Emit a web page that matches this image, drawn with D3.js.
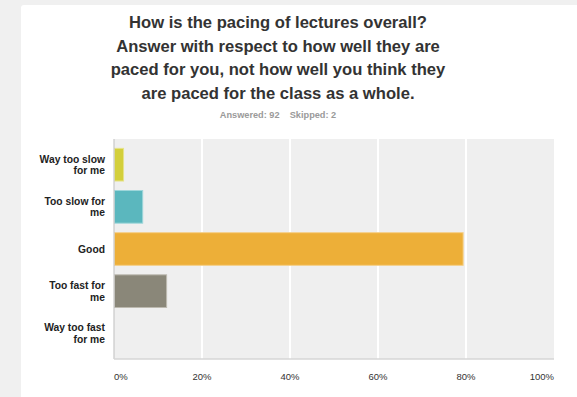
<!DOCTYPE html>
<html>
<head>
<meta charset="utf-8">
<script src="https://cdn.jsdelivr.net/npm/d3@7"></script>
<style>
  html, body { margin: 0; padding: 0; background: #f0f0f0; }
  svg { display: block; }
</style>
</head>
<body>
<svg id="chart" width="577" height="397"></svg>
<script>
// Survey question and response summary
const titleLines = [
  "How is the pacing of lectures overall?",
  "Answer with respect to how well they are",
  "paced for you, not how well you think they",
  "are paced for the class as a whole."
];
const answeredCount = 92;
const skippedCount = 2;

// Answer choices (each label wrapped onto its two printed lines)
const categories = ["Way too slow for me", "Too slow for me", "Good", "Too fast for me", "Way too fast for me"];
const categoryLines = [["Way too slow", "for me"], ["Too slow for", "me"], ["Good"], ["Too fast for", "me"], ["Way too fast", "for me"]];
// Response counts and resulting percentages
const counts = [2, 6, 73, 11, 0];
const percents = counts.map(c => c / answeredCount * 100);
const barColors = ["#d3cf3b", "#5bb7be", "#edaf38", "#8a8779", "#d3cf3b"];
const borderColors = ["#e6e38a", "#9fd6da", "#f5d089", "#bdbab0", "#e6e38a"];

// Axis ticks
const tickValues = [0, 20, 40, 60, 80, 100];
const tickLabels = ["0%", "20%", "40%", "60%", "80%", "100%"];

const svg = d3.select("#chart");
const font = "'Liberation Sans', Arial, Helvetica, sans-serif";

// White card
svg.append("rect")
  .attr("x", 21).attr("y", 5).attr("width", 600).attr("height", 420)
  .attr("rx", 3).attr("fill", "#ffffff");

// Title
svg.append("g").selectAll("text").data(titleLines).join("text")
  .attr("x", 278).attr("y", (d, i) => 28 + i * 23.5)
  .attr("text-anchor", "middle")
  .attr("font-family", font).attr("font-weight", "bold").attr("font-size", 16.6)
  .attr("fill", "#333333")
  .text(d => d);

// Answered / skipped line
svg.append("text")
  .attr("x", 278).attr("y", 118)
  .attr("text-anchor", "middle")
  .attr("font-family", font).attr("font-weight", "bold").attr("font-size", 9.2)
  .attr("fill", "#9a9a9a")
  .attr("xml:space", "preserve")
  .text(`Answered: ${answeredCount}    Skipped: ${skippedCount}`);

// Plot area
const plot = { left: 114, right: 554, top: 139, bottom: 359 };
const x = d3.scaleLinear().domain([0, 100]).range([plot.left, plot.right]);
const y = d3.scaleBand().domain(categories)
  .range([plot.top, plot.bottom]).paddingInner(0.225).paddingOuter(0.222);

svg.append("rect")
  .attr("x", plot.left).attr("y", plot.top)
  .attr("width", plot.right - plot.left).attr("height", plot.bottom - plot.top)
  .attr("fill", "#efefef");

// Vertical gridlines
svg.append("g").selectAll("line").data(tickValues.slice(1, -1)).join("line")
  .attr("x1", d => x(d)).attr("x2", d => x(d))
  .attr("y1", plot.top).attr("y2", plot.bottom)
  .attr("stroke", "#ffffff").attr("stroke-width", 2);

// Bars
svg.append("g").selectAll("rect").data(categories).join("rect")
  .filter((d, i) => percents[i] > 0)
  .attr("x", x(0) + 0.5)
  .attr("y", d => y(d))
  .attr("width", d => x(percents[categories.indexOf(d)]) - x(0) - 0.5)
  .attr("height", y.bandwidth())
  .attr("fill", d => barColors[categories.indexOf(d)])
  .attr("stroke", d => borderColors[categories.indexOf(d)])
  .attr("stroke-width", 1);

// Axis lines
svg.append("line")
  .attr("x1", plot.left).attr("x2", plot.left)
  .attr("y1", plot.top).attr("y2", plot.bottom)
  .attr("stroke", "#c8c8c8").attr("stroke-width", 1.2);
svg.append("line")
  .attr("x1", plot.left).attr("x2", plot.right)
  .attr("y1", plot.bottom).attr("y2", plot.bottom)
  .attr("stroke", "#d6d6d6").attr("stroke-width", 1.5);

// Category labels
const catG = svg.append("g");
categories.forEach((c, i) => {
  const lines = categoryLines[i];
  const cy = y(c) + y.bandwidth() / 2;
  const t = catG.append("text")
    .attr("x", 105)
    .attr("text-anchor", "end")
    .attr("font-family", font).attr("font-weight", "bold").attr("font-size", 10.3)
    .attr("fill", "#222222");
  lines.forEach((ln, j) => {
    t.append("tspan")
      .attr("x", 105)
      .attr("y", cy + 3.7 + (j - (lines.length - 1) / 2) * 11.3)
      .text(ln);
  });
});

// Tick labels: first anchored at start, last at end, others centred
svg.append("g").selectAll("text").data(tickValues).join("text")
  .attr("x", d => x(d))
  .attr("y", 380)
  .attr("text-anchor", (d, i) => i === 0 ? "start" : (i === tickValues.length - 1 ? "end" : "middle"))
  .attr("font-family", font).attr("font-size", 9.5)
  .attr("fill", "#333333")
  .text((d, i) => tickLabels[i]);
</script>
</body>
</html>
